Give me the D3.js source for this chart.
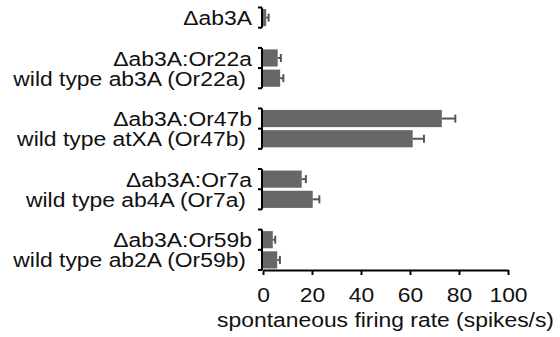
<!DOCTYPE html>
<html>
<head>
<meta charset="utf-8">
<script src="https://cdn.jsdelivr.net/npm/d3@7/dist/d3.min.js"></script>
<style>
  html, body { margin: 0; padding: 0; background: #fff; }
  svg { display: block; font-family: "Liberation Sans", Arial, Helvetica, sans-serif; }
</style>
</head>
<body>
<svg id="chart" width="560" height="337"></svg>
<script>
// Spontaneous firing rate per neuron type (spikes/s), mean and error
const labels = [
  "\u0394ab3A",
  "\u0394ab3A:Or22a", "wild type ab3A (Or22a)",
  "\u0394ab3A:Or47b", "wild type atXA (Or47b)",
  "\u0394ab3A:Or7a", "wild type ab4A (Or7a)",
  "\u0394ab3A:Or59b", "wild type ab2A (Or59b)"
];
const groups = [0, 1, 1, 2, 2, 3, 3, 4, 4];
const rates  = [1.3, 6.0, 7.0, 73.0, 61.1, 15.8, 20.3, 4.0, 5.8];
const errors = [1.0, 1.3, 1.3, 5.5, 4.6, 1.7, 2.7, 1.0, 1.1];
const xTicks = [0, 20, 40, 60, 80, 100];
const xTitle = "spontaneous firing rate (spikes/s)";

const svg = d3.select("#chart");
const W = 560, H = 337;
const margin = { left: 263, right: 52, top: 7.5, bottom: 67 };
const fontSize = 21;
const stretch = 1.09; // slightly wide lettering

// Build slot order: each group's rows followed by a spacer slot
const slots = [];
const groupIds = Array.from(new Set(groups));
groupIds.forEach((g, gi) => {
  labels.forEach((l, i) => { if (groups[i] === g) slots.push("r" + i); });
  if (gi < groupIds.length - 1) slots.push("gap" + g);
});

const x = d3.scaleLinear().domain([0, 100]).range([margin.left, W - margin.right]);
const y = d3.scaleBand().domain(slots).range([margin.top, H - margin.bottom]).paddingInner(0).paddingOuter(0);
const barPad = 0.075;

const rows = labels.map((l, i) => ({ label: l, group: groups[i], rate: rates[i], err: errors[i], key: "r" + i }));

// Bars
svg.append("g").selectAll("rect").data(rows).join("rect")
  .attr("x", x(0))
  .attr("y", d => y(d.key) + y.bandwidth() * barPad)
  .attr("width", d => x(d.rate) - x(0))
  .attr("height", y.bandwidth() * (1 - 2 * barPad))
  .attr("fill", "#676767");

// Error bars (positive side)
const eb = svg.append("g").attr("stroke", "#555").attr("stroke-width", 2).attr("fill", "none");
eb.selectAll("line.stem").data(rows).join("line").attr("class", "stem")
  .attr("x1", d => x(d.rate)).attr("x2", d => x(d.rate + d.err))
  .attr("y1", d => y(d.key) + y.bandwidth() / 2).attr("y2", d => y(d.key) + y.bandwidth() / 2);
eb.selectAll("line.cap").data(rows).join("line").attr("class", "cap")
  .attr("x1", d => x(d.rate + d.err)).attr("x2", d => x(d.rate + d.err))
  .attr("y1", d => y(d.key) + y.bandwidth() / 2 - 4).attr("y2", d => y(d.key) + y.bandwidth() / 2 + 4);

// Segmented category axis: one bracket per group
const axisG = svg.append("g").attr("stroke", "#000").attr("stroke-width", 2).attr("fill", "none");
groupIds.forEach(g => {
  const keys = rows.filter(r => r.group === g).map(r => r.key);
  const top = y(keys[0]);
  const bottom = y(keys[keys.length - 1]) + y.bandwidth();
  const ax = x(0) - 1;
  axisG.append("line").attr("x1", ax).attr("x2", ax).attr("y1", top).attr("y2", bottom);
  const bounds = [top].concat(keys.map(k => y(k) + y.bandwidth()));
  bounds.forEach(b => {
    axisG.append("line").attr("x1", ax - 4).attr("x2", ax).attr("y1", b).attr("y2", b);
  });
});

// Category labels
svg.append("g").selectAll("g").data(rows).join("g")
  .attr("transform", d => {
    const lx = d.label.startsWith("wild") ? x(0) - 17 : x(0) - 11;
    const ly = y(d.key) + y.bandwidth() / 2 + fontSize * 0.36;
    return `translate(${lx},${ly}) scale(${stretch},1)`;
  })
  .append("text")
  .attr("text-anchor", "end")
  .attr("font-size", fontSize)
  .attr("fill", "#111")
  .text(d => d.label);

// Value axis
const xAxis = svg.append("g")
  .attr("transform", `translate(0,${H - margin.bottom})`)
  .call(d3.axisBottom(x).tickValues(xTicks).tickSize(5).tickSizeOuter(0).tickPadding(12));
xAxis.select(".domain").attr("stroke", "#000").attr("stroke-width", 2);
xAxis.selectAll(".tick line").attr("stroke", "#000").attr("stroke-width", 2);
xAxis.selectAll(".tick text")
  .attr("font-size", fontSize).attr("fill", "#111")
  .attr("font-family", "Liberation Sans, Arial, sans-serif")
  .attr("transform", `scale(${stretch},1)`)
  .attr("x", 0);

svg.append("g")
  .attr("transform", `translate(${(x(0) + x(100)) / 2},327) scale(${stretch},1)`)
  .append("text")
  .attr("text-anchor", "middle")
  .attr("font-size", fontSize)
  .attr("fill", "#111")
  .text(xTitle);
</script>
</body>
</html>
